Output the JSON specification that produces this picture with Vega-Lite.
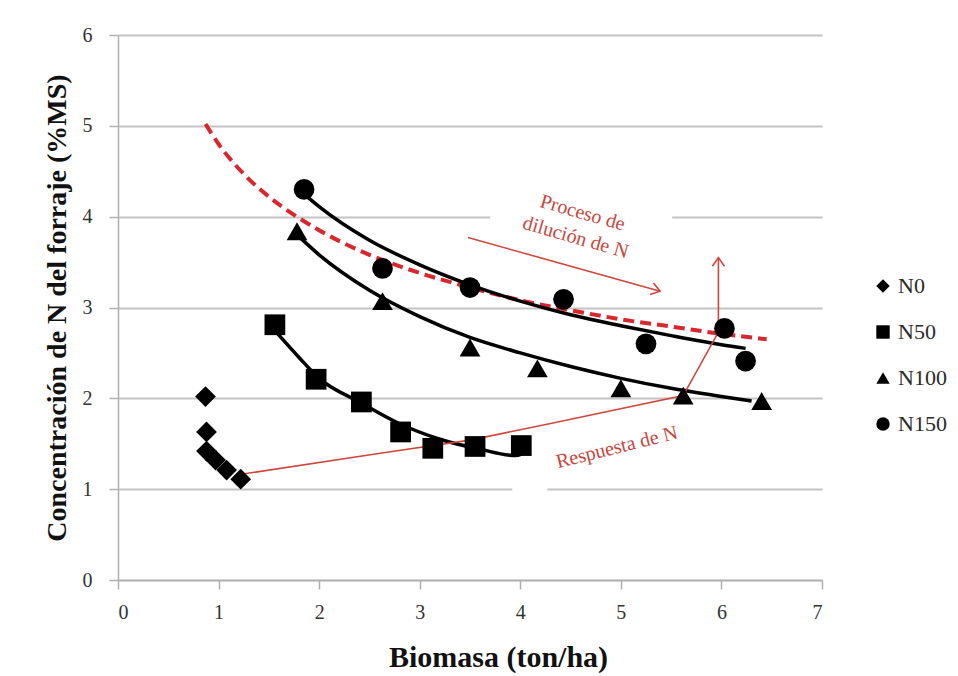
{
  "$schema": "https://vega.github.io/schema/vega-lite/v6.json",
  "width": 704,
  "height": 545,
  "autosize": {"type": "none"},
  "padding": {"left": 118, "top": 35, "right": 136, "bottom": 96},
  "background": "white",
  "config": {
    "view": {"stroke": null},
    "font": "Liberation Serif",
    "axis": {
      "labelFont": "Liberation Serif",
      "labelFontSize": 20,
      "labelColor": "#333333",
      "titleFont": "Liberation Serif",
      "titleFontWeight": "bold",
      "titleColor": "#111111",
      "domainColor": "#b0b0b0",
      "domainWidth": 1.5,
      "tickColor": "#b0b0b0",
      "tickWidth": 1.5,
      "tickSize": 9,
      "gridColor": "#c4c4c4",
      "gridWidth": 2
    },
    "legend": {
      "labelFont": "Liberation Serif",
      "labelFontSize": 22,
      "labelColor": "#2a2a2a"
    }
  },
  "datasets": {
    "points": [
      {"series": "N0", "x": 0.87, "y": 2.02},
      {"series": "N0", "x": 0.88, "y": 1.63},
      {"series": "N0", "x": 0.88, "y": 1.42},
      {"series": "N0", "x": 0.97, "y": 1.32},
      {"series": "N0", "x": 1.08, "y": 1.21},
      {"series": "N0", "x": 1.22, "y": 1.11},
      {"series": "N50", "x": 1.56, "y": 2.81},
      {"series": "N50", "x": 1.97, "y": 2.21},
      {"series": "N50", "x": 2.42, "y": 1.96},
      {"series": "N50", "x": 2.81, "y": 1.63},
      {"series": "N50", "x": 3.13, "y": 1.45},
      {"series": "N50", "x": 3.55, "y": 1.47},
      {"series": "N50", "x": 4.01, "y": 1.48},
      {"series": "N100", "x": 1.78, "y": 3.84},
      {"series": "N100", "x": 2.63, "y": 3.07},
      {"series": "N100", "x": 3.50, "y": 2.56},
      {"series": "N100", "x": 4.17, "y": 2.33},
      {"series": "N100", "x": 5.00, "y": 2.11},
      {"series": "N100", "x": 5.62, "y": 2.03},
      {"series": "N100", "x": 6.40, "y": 1.97},
      {"series": "N150", "x": 1.85, "y": 4.30},
      {"series": "N150", "x": 2.63, "y": 3.43},
      {"series": "N150", "x": 3.50, "y": 3.22},
      {"series": "N150", "x": 4.43, "y": 3.09},
      {"series": "N150", "x": 5.25, "y": 2.60},
      {"series": "N150", "x": 6.03, "y": 2.77},
      {"series": "N150", "x": 6.24, "y": 2.41}
    ],
    "curves": [
      {"curve": "N50", "x": 1.58, "y": 2.72},
      {"curve": "N50", "x": 1.8, "y": 2.45},
      {"curve": "N50", "x": 2.0, "y": 2.22},
      {"curve": "N50", "x": 2.4, "y": 1.96},
      {"curve": "N50", "x": 2.8, "y": 1.72},
      {"curve": "N50", "x": 3.2, "y": 1.55},
      {"curve": "N50", "x": 3.6, "y": 1.44},
      {"curve": "N50", "x": 3.95, "y": 1.37},
      {"curve": "N50", "x": 4.02, "y": 1.39},
      {"curve": "N100", "x": 1.8, "y": 3.78},
      {"curve": "N100", "x": 2.0, "y": 3.58},
      {"curve": "N100", "x": 2.5, "y": 3.19},
      {"curve": "N100", "x": 3.0, "y": 2.90},
      {"curve": "N100", "x": 3.5, "y": 2.67},
      {"curve": "N100", "x": 4.0, "y": 2.50},
      {"curve": "N100", "x": 4.5, "y": 2.35},
      {"curve": "N100", "x": 5.0, "y": 2.22},
      {"curve": "N100", "x": 5.5, "y": 2.11},
      {"curve": "N100", "x": 6.0, "y": 2.02},
      {"curve": "N100", "x": 6.3, "y": 1.97},
      {"curve": "N150", "x": 1.86, "y": 4.24},
      {"curve": "N150", "x": 2.0, "y": 4.11},
      {"curve": "N150", "x": 2.5, "y": 3.74},
      {"curve": "N150", "x": 3.0, "y": 3.47},
      {"curve": "N150", "x": 3.5, "y": 3.25},
      {"curve": "N150", "x": 4.0, "y": 3.07},
      {"curve": "N150", "x": 4.5, "y": 2.92},
      {"curve": "N150", "x": 5.0, "y": 2.80},
      {"curve": "N150", "x": 5.5, "y": 2.69},
      {"curve": "N150", "x": 6.0, "y": 2.59},
      {"curve": "N150", "x": 6.24, "y": 2.55}
    ],
    "critical": [
      {"x": 0.87, "y": 5.02},
      {"x": 1.0, "y": 4.80},
      {"x": 1.25, "y": 4.47},
      {"x": 1.5, "y": 4.22},
      {"x": 1.75, "y": 4.02},
      {"x": 2.0, "y": 3.85},
      {"x": 2.5, "y": 3.58},
      {"x": 3.0, "y": 3.38},
      {"x": 3.5, "y": 3.22},
      {"x": 4.0, "y": 3.08},
      {"x": 4.5, "y": 2.97},
      {"x": 5.0, "y": 2.87},
      {"x": 5.5, "y": 2.79},
      {"x": 6.0, "y": 2.71},
      {"x": 6.45, "y": 2.65}
    ],
    "arrows": [
      {"arrow": "respuesta", "o": 1, "x": 1.26, "y": 1.17},
      {"arrow": "respuesta", "o": 2, "x": 2.64, "y": 1.40},
      {"arrow": "respuesta", "o": 3, "x": 3.50, "y": 1.54},
      {"arrow": "respuesta", "o": 4, "x": 4.29, "y": 1.72},
      {"arrow": "respuesta", "o": 5, "x": 5.62, "y": 2.03},
      {"arrow": "respuesta", "o": 6, "x": 5.97, "y": 2.73},
      {"arrow": "respuesta", "o": 7, "x": 5.97, "y": 3.55},
      {"arrow": "dilucion", "o": 1, "x": 3.48, "y": 3.77},
      {"arrow": "dilucion", "o": 2, "x": 5.39, "y": 3.18}
    ],
    "heads": [
      {"head": "dilucion", "x": 5.39, "y": 3.18},
      {"head": "respuesta", "x": 5.97, "y": 3.55}
    ],
    "labels": [
      {"group": "dilucion", "label": "Proceso de", "x": 4.62, "y": 4.04},
      {"group": "dilucion", "label": "dilución de N", "x": 4.55, "y": 3.77},
      {"group": "respuesta", "label": "Respuesta de N", "x": 4.96, "y": 1.46}
    ],
    "masks": [
      {"x": 3.70, "x2": 5.51, "y": 3.96, "y2": 4.04},
      {"x": 3.92, "x2": 4.27, "y": 0.96, "y2": 1.05}
    ]
  },
  "encoding": {
    "x": {
      "field": "x",
      "type": "quantitative",
      "scale": {"domain": [0, 7], "nice": false, "zero": false},
      "axis": {
        "title": "Biomasa (ton/ha)",
        "values": [0, 1, 2, 3, 4, 5, 6, 7],
        "grid": false,
        "labelPadding": 13,
        "titleFontSize": 30,
        "titlePadding": 20,
        "titleX": 380
      }
    },
    "y": {
      "field": "y",
      "type": "quantitative",
      "scale": {"domain": [0, 6], "nice": false, "zero": false},
      "axis": {
        "title": "Concentración de N del forraje (%MS)",
        "values": [0, 1, 2, 3, 4, 5, 6],
        "grid": true,
        "labelPadding": 17,
        "titleFontSize": 28,
        "titlePadding": 11
      }
    }
  },
  "layer": [
    {
      "data": {"name": "masks"},
      "mark": {"type": "rect", "fill": "white"},
      "encoding": {"x2": {"field": "x2"}, "y2": {"field": "y2"}}
    },
    {
      "data": {"name": "critical"},
      "mark": {"type": "line", "color": "#d9272e", "strokeWidth": 4, "strokeDash": [11, 6], "interpolate": "monotone"},
      "encoding": {}
    },
    {
      "data": {"name": "curves"},
      "mark": {"type": "line", "color": "black", "strokeWidth": 3.5, "interpolate": "monotone"},
      "encoding": {"detail": {"field": "curve"}}
    },
    {
      "data": {"name": "arrows"},
      "mark": {"type": "line", "color": "#d0473e", "strokeWidth": 1.6},
      "encoding": {"detail": {"field": "arrow"}, "order": {"field": "o", "type": "quantitative"}}
    },
    {
      "data": {"name": "heads"},
      "transform": [{"filter": "datum.head === 'dilucion'"}],
      "mark": {"type": "point", "shape": "M -1 -0.7 L 0 0 L -1 0.7", "filled": false, "stroke": "#d0473e", "strokeWidth": 1.6, "size": 300, "angle": 16, "opacity": 1},
      "encoding": {}
    },
    {
      "data": {"name": "heads"},
      "transform": [{"filter": "datum.head === 'respuesta'"}],
      "mark": {"type": "point", "shape": "M -1 -0.7 L 0 0 L -1 0.7", "filled": false, "stroke": "#d0473e", "strokeWidth": 1.6, "size": 300, "angle": -90, "opacity": 1},
      "encoding": {}
    },
    {
      "data": {"name": "points"},
      "mark": {"type": "point", "filled": true, "opacity": 1, "size": 430},
      "encoding": {
        "color": {"value": "black"},
        "shape": {
          "field": "series",
          "type": "nominal",
          "scale": {"domain": ["N0", "N50", "N100", "N150"], "range": ["diamond", "square", "triangle-up", "circle"]},
          "legend": {
            "title": null,
            "orient": "none",
            "legendX": 754,
            "legendY": 240,
            "padding": 0,
            "symbolSize": 180,
            "symbolFillColor": "black",
            "symbolStrokeWidth": 0,
            "symbolOpacity": 1,
            "labelOffset": 4,
            "rowPadding": 24
          }
        }
      }
    },
    {
      "data": {"name": "labels"},
      "transform": [{"filter": "datum.group === 'dilucion'"}],
      "mark": {"type": "text", "font": "Liberation Serif", "fontSize": 20, "color": "#c9453b", "angle": 16, "align": "center", "baseline": "middle"},
      "encoding": {"text": {"field": "label"}}
    },
    {
      "data": {"name": "labels"},
      "transform": [{"filter": "datum.group === 'respuesta'"}],
      "mark": {"type": "text", "font": "Liberation Serif", "fontSize": 20, "color": "#c9453b", "angle": -14, "align": "center", "baseline": "middle"},
      "encoding": {"text": {"field": "label"}}
    }
  ]
}
